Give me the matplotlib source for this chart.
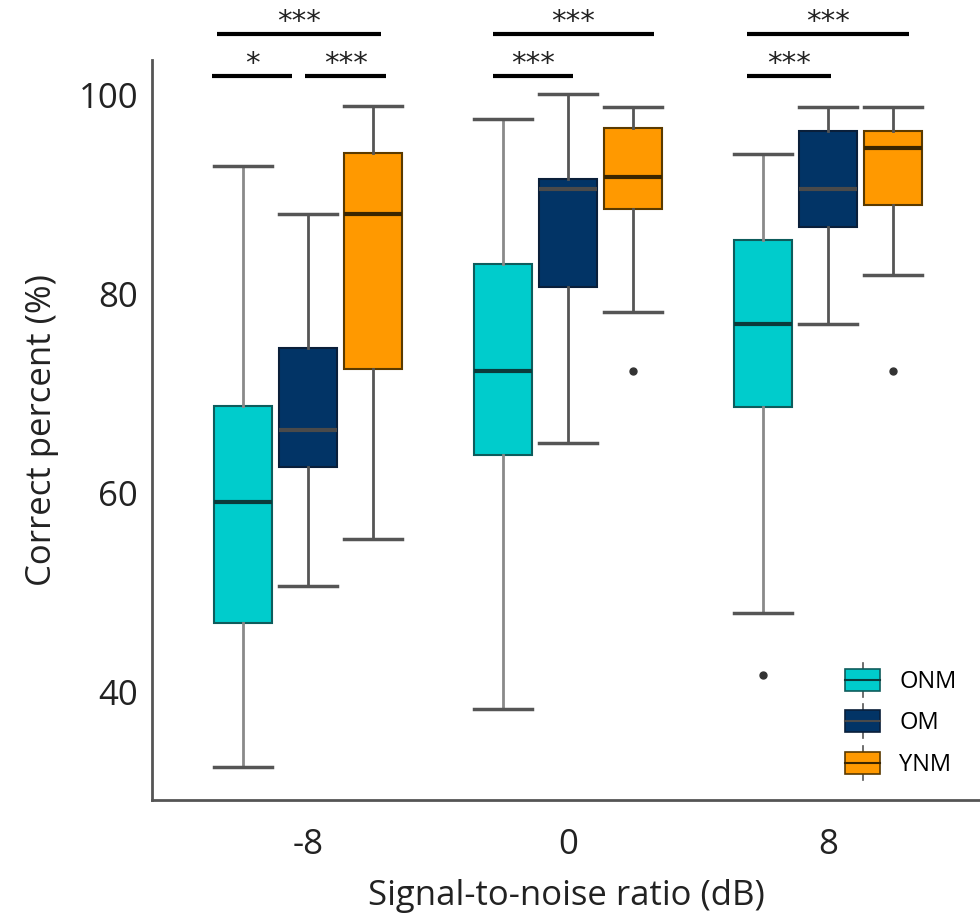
import numpy as np
import matplotlib.pyplot as plt
from matplotlib.patches import Rectangle
from matplotlib.lines import Line2D
from matplotlib.legend_handler import HandlerBase

plt.rcParams['font.family'] = ['Open Sans', 'DejaVu Sans']

# Podaci ocitani sa slike (percentili za svaki boxplot)
snr_labels = ['-8', '0', '8']
groups = ['ONM', 'OM', 'YNM']
colors = ['#00CCCC', '#023466', '#FF9900']
edge_colors = ['#0E5C5C', '#0A1F3A', '#5A3A00']
median_colors = ['#0B3B3B', '#4A4A4A', '#3A2600']
whisker_colors = ['#8A8A8A', '#555555', '#555555']

whislo = {'ONM': [32.4, 38.3, 47.9], 'OM': [50.6, 65.0, 77.0], 'YNM': [55.4, 78.2, 81.9]}
q1 = {'ONM': [46.9, 63.8, 68.6], 'OM': [62.6, 80.7, 86.7], 'YNM': [72.4, 88.5, 88.9]}
med = {'ONM': [59.1, 72.2, 77.0], 'OM': [66.3, 90.5, 90.5], 'YNM': [88.0, 91.7, 94.7]}
q3 = {'ONM': [68.7, 83.0, 85.4], 'OM': [74.6, 91.5, 96.4], 'YNM': [94.1, 96.7, 96.4]}
whishi = {'ONM': [92.8, 97.6, 94.0], 'OM': [88.0, 100.1, 98.8], 'YNM': [98.9, 98.8, 98.8]}
fliers = {'ONM': [[], [], [41.7]], 'OM': [[], [], []], 'YNM': [[], [72.2], [72.2]]}

# Oznake znacajnosti: (x1, x2, nivo, tekst)
sig_bars = [(-0.35, 0.28, 106.1, '***'), (-0.37, -0.06, 101.9, '*'), (-0.01, 0.30, 101.9, '***'),
            (0.71, 1.33, 106.1, '***'), (0.71, 1.02, 101.9, '***'),
            (1.69, 2.31, 106.1, '***'), (1.69, 2.01, 101.9, '***')]

fig = plt.figure(figsize=(9.8, 9.22), dpi=100)
ax = fig.add_axes([0.155, 0.132, 0.845, 0.803])

width = 0.225
offsets = [-0.25, 0.0, 0.25]
for gi, g in enumerate(groups):
    stats = []
    for k in range(3):
        stats.append(dict(whislo=whislo[g][k], q1=q1[g][k], med=med[g][k], q3=q3[g][k],
                          whishi=whishi[g][k], fliers=fliers[g][k]))
    pos = np.arange(3) + offsets[gi]
    ax.bxp(stats, positions=pos, widths=width, capwidths=width, patch_artist=True,
           showfliers=True,
           boxprops=dict(facecolor=colors[gi], edgecolor=edge_colors[gi], linewidth=1.5),
           medianprops=dict(color=median_colors[gi], linewidth=3),
           whiskerprops=dict(color=whisker_colors[gi], linewidth=2),
           capprops=dict(color='#555555', linewidth=2.5),
           flierprops=dict(marker='o', markerfacecolor='#333333', markeredgecolor='#333333',
                           markersize=5))

for x1, x2, yy, txt in sig_bars:
    ax.plot([x1, x2], [yy, yy], color='black', lw=3, clip_on=False, solid_capstyle='butt')
    ax.text((x1 + x2) / 2, yy - 0.2, txt, ha='center', va='bottom', fontsize=21,
            family='DejaVu Sans', color='#222222', clip_on=False)

ax.set_xlim(-0.6, 2.585)
ax.set_ylim(29.1, 103.5)
ax.set_xticks(range(3))
ax.set_xticklabels(snr_labels)
ax.set_yticks([40, 60, 80, 100])
ax.tick_params(axis='both', length=0, labelsize=25, colors='#222222')
ax.tick_params(axis='x', pad=20)
ax.tick_params(axis='y', pad=10)
for s in ['top', 'right']:
    ax.spines[s].set_visible(False)
for s in ['left', 'bottom']:
    ax.spines[s].set_color('#555555')
    ax.spines[s].set_linewidth(2)
ax.set_xlabel('Signal-to-noise ratio (dB)', fontsize=25, color='#222222', labelpad=12)
ax.set_ylabel('Correct percent (%)', fontsize=25, color='#222222', labelpad=14)


class BoxHandler(HandlerBase):
    def __init__(self, face, edge, med_c):
        super().__init__()
        self.face, self.edge, self.med_c = face, edge, med_c

    def create_artists(self, legend, orig_handle, xdescent, ydescent, width, height, fontsize, trans):
        cx = width / 2 - xdescent
        r = Rectangle((-xdescent, -ydescent + height * 0.05), width, height * 0.9,
                      facecolor=self.face, edgecolor=self.edge, lw=1.2, transform=trans)
        m = Line2D([-xdescent, width - xdescent], [height / 2 - ydescent] * 2,
                   color=self.med_c, lw=1.5, transform=trans)
        w1 = Line2D([cx, cx], [height * 0.95 - ydescent, height * 1.2 - ydescent],
                    color='#555555', lw=1.2, transform=trans)
        w2 = Line2D([cx, cx], [-height * 0.2 - ydescent, height * 0.05 - ydescent],
                    color='#555555', lw=1.2, transform=trans)
        return [w1, w2, r, m]


handles = [Rectangle((0, 0), 1, 1) for _ in groups]
hmap = {handles[i]: BoxHandler(colors[i], edge_colors[i], median_colors[i]) for i in range(3)}
ax.legend(handles, groups, handler_map=hmap, loc='lower right', bbox_to_anchor=(1.0, 0.0),
          frameon=False, fontsize=17, handlelength=1.5, handleheight=1.2, labelspacing=0.65,
          handletextpad=0.8, borderaxespad=0.6)

fig.savefig('out.png', dpi=100)
